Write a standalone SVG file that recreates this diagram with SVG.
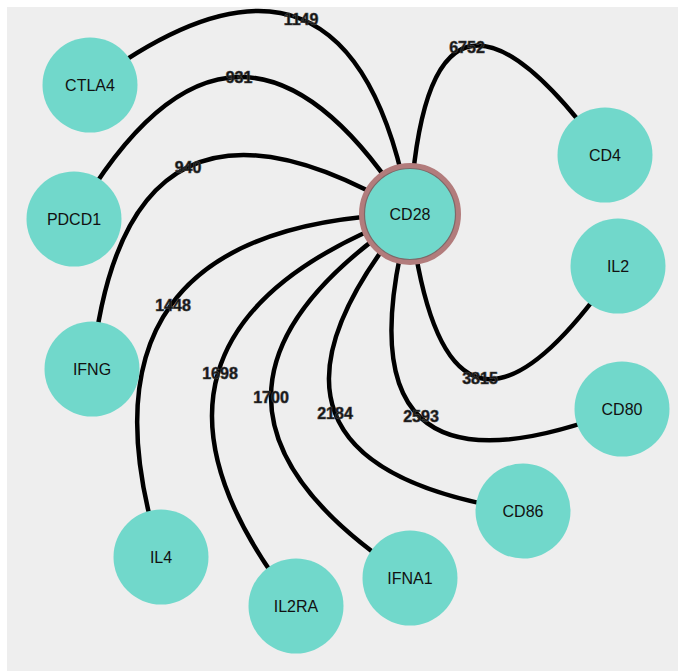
<svg xmlns="http://www.w3.org/2000/svg" width="678" height="671" viewBox="0 0 678 671">
<style>
.edge{fill:none;stroke:#000;stroke-width:4.5}
.node circle{fill:#71d8cb}
.nl{font-family:"Liberation Sans",Arial,sans-serif;font-size:16px;fill:#111;text-anchor:middle}
.el{font-family:"Liberation Sans",Arial,sans-serif;font-size:16px;font-weight:bold;fill:#111;stroke:#444;stroke-width:0.6;text-anchor:middle}
</style>
<rect x="0" y="0" width="678" height="671" fill="#ffffff"/>
<rect x="7" y="7" width="671" height="664" fill="#eeeeee"/>
<g id="edges">
<path class="edge" d="M90,85 Q352,-111.5 410,214"/>
<path class="edge" d="M74,219 Q236,-62.5 410,214"/>
<path class="edge" d="M92,369 Q125,42.5 410,214"/>
<path class="edge" d="M161,557 Q56.5,224.5 410,214"/>
<path class="edge" d="M296,606 Q83,336 410,214"/>
<path class="edge" d="M410,578 Q132,398 410,214"/>
<path class="edge" d="M523,511 Q203.5,463.5 410,214"/>
<path class="edge" d="M622,409 Q326,524.5 410,214"/>
<path class="edge" d="M618,266 Q446,516 410,214"/>
<path class="edge" d="M605,155 Q426.5,-90.5 410,214"/>
</g>
<g id="edge-labels">
<text class="el" x="301" y="25">1149</text>
<text class="el" x="239" y="83">931</text>
<text class="el" x="188" y="173">940</text>
<text class="el" x="173" y="311">1448</text>
<text class="el" x="220" y="379">1698</text>
<text class="el" x="271" y="403">1700</text>
<text class="el" x="335" y="419">2184</text>
<text class="el" x="421" y="422">2593</text>
<text class="el" x="480" y="384">3815</text>
<text class="el" x="467" y="53">6752</text>
</g>
<g id="CTLA4" class="node"><circle cx="90" cy="85" r="47.5"/><text class="nl" x="90" y="91">CTLA4</text></g>
<g id="PDCD1" class="node"><circle cx="74" cy="219" r="47.5"/><text class="nl" x="74" y="225">PDCD1</text></g>
<g id="IFNG" class="node"><circle cx="92" cy="369" r="47.5"/><text class="nl" x="92" y="375">IFNG</text></g>
<g id="IL4" class="node"><circle cx="161" cy="557" r="47.5"/><text class="nl" x="161" y="563">IL4</text></g>
<g id="IL2RA" class="node"><circle cx="296" cy="606" r="47.5"/><text class="nl" x="296" y="612">IL2RA</text></g>
<g id="IFNA1" class="node"><circle cx="410" cy="578" r="47.5"/><text class="nl" x="410" y="584">IFNA1</text></g>
<g id="CD86" class="node"><circle cx="523" cy="511" r="47.5"/><text class="nl" x="523" y="517">CD86</text></g>
<g id="CD80" class="node"><circle cx="622" cy="409" r="47.5"/><text class="nl" x="622" y="415">CD80</text></g>
<g id="IL2" class="node"><circle cx="618" cy="266" r="47.5"/><text class="nl" x="618" y="272">IL2</text></g>
<g id="CD4" class="node"><circle cx="605" cy="155" r="47.5"/><text class="nl" x="605" y="161">CD4</text></g>
<g id="CD28" class="node"><circle cx="410" cy="214" r="48" stroke="#b27c7c" stroke-width="6"/><circle cx="410" cy="214" r="45.5" fill="none" stroke="#7e6868" stroke-width="1.2"/><text class="nl" x="410" y="220">CD28</text></g>
</svg>
